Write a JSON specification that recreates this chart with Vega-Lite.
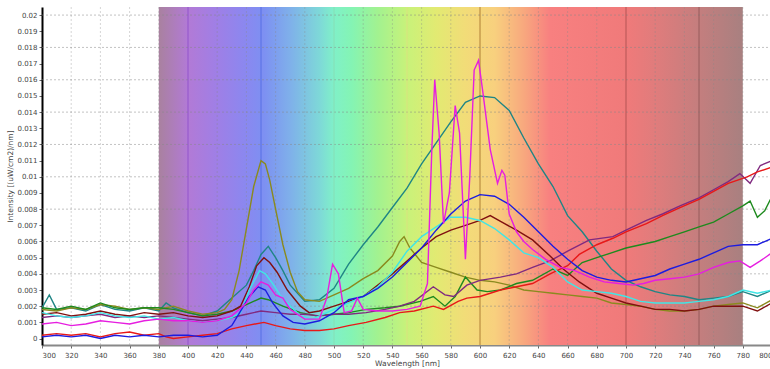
{
  "$schema": "https://vega.github.io/schema/vega-lite/v6.json",
  "autosize": {"type": "none"},
  "padding": {"left": 42, "top": 7, "right": 0, "bottom": 24},
  "width": 730,
  "height": 338,
  "background": "white",
  "config": {
    "view": {"stroke": null},
    "font": "DejaVu Sans",
    "axis": {"labelFont": "DejaVu Sans", "labelFontSize": 7, "labelColor": "#444", "labelOverlap": false, "titleFont": "DejaVu Sans", "titleFontSize": 7.5, "titleFontWeight": "normal", "titleColor": "#444", "grid": false, "tickColor": "#666", "tickSize": 3}
  },
  "datasets": {
    "band": [{"a": 380, "b": 780}],
    "marks": [{"w": 400}, {"w": 450}, {"w": 500}, {"w": 550}, {"w": 600}, {"w": 700}, {"w": 750}],
    "ygrid": [{"g": 0.002}, {"g": 0.004}, {"g": 0.006}, {"g": 0.008}, {"g": 0.01}, {"g": 0.012}, {"g": 0.014}, {"g": 0.016}, {"g": 0.018}, {"g": 0.02}],
    "xgrid": [{"g": 320}, {"g": 340}, {"g": 360}, {"g": 380}, {"g": 420}, {"g": 440}, {"g": 460}, {"g": 480}, {"g": 520}, {"g": 540}, {"g": 560}, {"g": 580}, {"g": 620}, {"g": 640}, {"g": 660}, {"g": 680}, {"g": 720}, {"g": 740}, {"g": 760}, {"g": 780}, {"g": 800}],
    "spectra": [
      {"s":"teal","w":300,"v":0.0019},{"s":"teal","w":305,"v":0.0027},{"s":"teal","w":310,"v":0.0018},{"s":"teal","w":320,"v":0.0019},{"s":"teal","w":330,"v":0.0017},{"s":"teal","w":340,"v":0.0021},{"s":"teal","w":350,"v":0.0018},{"s":"teal","w":360,"v":0.0017},{"s":"teal","w":370,"v":0.0019},{"s":"teal","w":380,"v":0.0017},{"s":"teal","w":385,"v":0.0022},{"s":"teal","w":390,"v":0.0019},{"s":"teal","w":400,"v":0.0016},{"s":"teal","w":410,"v":0.0014},{"s":"teal","w":420,"v":0.0017},{"s":"teal","w":430,"v":0.0025},{"s":"teal","w":440,"v":0.0033},{"s":"teal","w":445,"v":0.0042},{"s":"teal","w":450,"v":0.0052},{"s":"teal","w":455,"v":0.0057},{"s":"teal","w":460,"v":0.005},{"s":"teal","w":465,"v":0.0042},{"s":"teal","w":470,"v":0.0033},{"s":"teal","w":480,"v":0.0023},{"s":"teal","w":490,"v":0.0024},{"s":"teal","w":500,"v":0.0031},{"s":"teal","w":510,"v":0.0046},{"s":"teal","w":520,"v":0.0058},{"s":"teal","w":530,"v":0.0069},{"s":"teal","w":540,"v":0.0081},{"s":"teal","w":550,"v":0.0093},{"s":"teal","w":560,"v":0.0108},{"s":"teal","w":570,"v":0.0121},{"s":"teal","w":580,"v":0.0134},{"s":"teal","w":590,"v":0.0146},{"s":"teal","w":600,"v":0.015},{"s":"teal","w":610,"v":0.0149},{"s":"teal","w":620,"v":0.0141},{"s":"teal","w":630,"v":0.0124},{"s":"teal","w":640,"v":0.0108},{"s":"teal","w":650,"v":0.0094},{"s":"teal","w":660,"v":0.0076},{"s":"teal","w":670,"v":0.0066},{"s":"teal","w":680,"v":0.0054},{"s":"teal","w":690,"v":0.0043},{"s":"teal","w":700,"v":0.0036},{"s":"teal","w":710,"v":0.0032},{"s":"teal","w":720,"v":0.0029},{"s":"teal","w":730,"v":0.0027},{"s":"teal","w":740,"v":0.0026},{"s":"teal","w":750,"v":0.0024},{"s":"teal","w":760,"v":0.0025},{"s":"teal","w":770,"v":0.0026},{"s":"teal","w":780,"v":0.0029},{"s":"teal","w":790,"v":0.0026},{"s":"teal","w":800,"v":0.003},
      {"s":"olive","w":300,"v":0.0018},{"s":"olive","w":310,"v":0.0017},{"s":"olive","w":320,"v":0.0019},{"s":"olive","w":330,"v":0.0018},{"s":"olive","w":340,"v":0.0021},{"s":"olive","w":350,"v":0.002},{"s":"olive","w":360,"v":0.0018},{"s":"olive","w":370,"v":0.0019},{"s":"olive","w":380,"v":0.0018},{"s":"olive","w":390,"v":0.002},{"s":"olive","w":400,"v":0.0017},{"s":"olive","w":410,"v":0.0015},{"s":"olive","w":420,"v":0.0016},{"s":"olive","w":425,"v":0.0018},{"s":"olive","w":430,"v":0.0024},{"s":"olive","w":435,"v":0.0042},{"s":"olive","w":440,"v":0.0068},{"s":"olive","w":445,"v":0.0094},{"s":"olive","w":450,"v":0.011},{"s":"olive","w":453,"v":0.0108},{"s":"olive","w":456,"v":0.0098},{"s":"olive","w":460,"v":0.008},{"s":"olive","w":465,"v":0.0058},{"s":"olive","w":470,"v":0.0041},{"s":"olive","w":475,"v":0.0029},{"s":"olive","w":480,"v":0.0024},{"s":"olive","w":490,"v":0.0023},{"s":"olive","w":500,"v":0.0027},{"s":"olive","w":510,"v":0.0031},{"s":"olive","w":520,"v":0.0037},{"s":"olive","w":530,"v":0.0042},{"s":"olive","w":540,"v":0.0051},{"s":"olive","w":545,"v":0.006},{"s":"olive","w":548,"v":0.0063},{"s":"olive","w":552,"v":0.0056},{"s":"olive","w":560,"v":0.0047},{"s":"olive","w":570,"v":0.0044},{"s":"olive","w":580,"v":0.0041},{"s":"olive","w":590,"v":0.0038},{"s":"olive","w":600,"v":0.0036},{"s":"olive","w":610,"v":0.0035},{"s":"olive","w":620,"v":0.0033},{"s":"olive","w":630,"v":0.003},{"s":"olive","w":640,"v":0.0029},{"s":"olive","w":650,"v":0.0028},{"s":"olive","w":660,"v":0.0027},{"s":"olive","w":670,"v":0.0026},{"s":"olive","w":680,"v":0.0025},{"s":"olive","w":690,"v":0.0022},{"s":"olive","w":700,"v":0.0021},{"s":"olive","w":710,"v":0.002},{"s":"olive","w":720,"v":0.0018},{"s":"olive","w":730,"v":0.0017},{"s":"olive","w":740,"v":0.0017},{"s":"olive","w":750,"v":0.0018},{"s":"olive","w":760,"v":0.002},{"s":"olive","w":770,"v":0.0021},{"s":"olive","w":780,"v":0.0022},{"s":"olive","w":790,"v":0.0019},{"s":"olive","w":800,"v":0.0024},
      {"s":"green","w":300,"v":0.0019},{"s":"green","w":310,"v":0.0018},{"s":"green","w":320,"v":0.002},{"s":"green","w":330,"v":0.0018},{"s":"green","w":340,"v":0.0022},{"s":"green","w":350,"v":0.0019},{"s":"green","w":360,"v":0.0018},{"s":"green","w":370,"v":0.0019},{"s":"green","w":380,"v":0.0019},{"s":"green","w":390,"v":0.0018},{"s":"green","w":400,"v":0.0016},{"s":"green","w":410,"v":0.0014},{"s":"green","w":420,"v":0.0015},{"s":"green","w":430,"v":0.0017},{"s":"green","w":440,"v":0.0021},{"s":"green","w":450,"v":0.0025},{"s":"green","w":455,"v":0.0024},{"s":"green","w":465,"v":0.002},{"s":"green","w":477,"v":0.0016},{"s":"green","w":488,"v":0.0014},{"s":"green","w":500,"v":0.0015},{"s":"green","w":510,"v":0.0016},{"s":"green","w":522,"v":0.0018},{"s":"green","w":535,"v":0.0019},{"s":"green","w":545,"v":0.002},{"s":"green","w":559,"v":0.0023},{"s":"green","w":568,"v":0.0026},{"s":"green","w":576,"v":0.002},{"s":"green","w":583,"v":0.0026},{"s":"green","w":590,"v":0.0038},{"s":"green","w":598,"v":0.003},{"s":"green","w":605,"v":0.0029},{"s":"green","w":614,"v":0.003},{"s":"green","w":625,"v":0.0034},{"s":"green","w":636,"v":0.0036},{"s":"green","w":650,"v":0.0043},{"s":"green","w":660,"v":0.0039},{"s":"green","w":670,"v":0.0047},{"s":"green","w":680,"v":0.005},{"s":"green","w":690,"v":0.0053},{"s":"green","w":700,"v":0.0056},{"s":"green","w":710,"v":0.0058},{"s":"green","w":720,"v":0.006},{"s":"green","w":730,"v":0.0063},{"s":"green","w":740,"v":0.0066},{"s":"green","w":750,"v":0.0069},{"s":"green","w":760,"v":0.0072},{"s":"green","w":770,"v":0.0077},{"s":"green","w":780,"v":0.0082},{"s":"green","w":785,"v":0.0085},{"s":"green","w":790,"v":0.0075},{"s":"green","w":795,"v":0.0079},{"s":"green","w":800,"v":0.0088},
      {"s":"purple","w":300,"v":0.0013},{"s":"purple","w":310,"v":0.0014},{"s":"purple","w":320,"v":0.0013},{"s":"purple","w":330,"v":0.0014},{"s":"purple","w":340,"v":0.0015},{"s":"purple","w":350,"v":0.0013},{"s":"purple","w":360,"v":0.0014},{"s":"purple","w":370,"v":0.0013},{"s":"purple","w":380,"v":0.0014},{"s":"purple","w":390,"v":0.0013},{"s":"purple","w":400,"v":0.0012},{"s":"purple","w":410,"v":0.0011},{"s":"purple","w":420,"v":0.0012},{"s":"purple","w":430,"v":0.0013},{"s":"purple","w":440,"v":0.0015},{"s":"purple","w":450,"v":0.0017},{"s":"purple","w":460,"v":0.0016},{"s":"purple","w":470,"v":0.0015},{"s":"purple","w":480,"v":0.0015},{"s":"purple","w":490,"v":0.0014},{"s":"purple","w":500,"v":0.0015},{"s":"purple","w":510,"v":0.0015},{"s":"purple","w":522,"v":0.0016},{"s":"purple","w":535,"v":0.0018},{"s":"purple","w":545,"v":0.002},{"s":"purple","w":555,"v":0.0023},{"s":"purple","w":568,"v":0.0032},{"s":"purple","w":576,"v":0.0027},{"s":"purple","w":582,"v":0.0026},{"s":"purple","w":591,"v":0.0033},{"s":"purple","w":600,"v":0.0036},{"s":"purple","w":614,"v":0.0038},{"s":"purple","w":625,"v":0.004},{"s":"purple","w":636,"v":0.0044},{"s":"purple","w":648,"v":0.0048},{"s":"purple","w":660,"v":0.0054},{"s":"purple","w":675,"v":0.0061},{"s":"purple","w":691,"v":0.0063},{"s":"purple","w":700,"v":0.0067},{"s":"purple","w":714,"v":0.0073},{"s":"purple","w":725,"v":0.0077},{"s":"purple","w":737,"v":0.0082},{"s":"purple","w":750,"v":0.0087},{"s":"purple","w":760,"v":0.0092},{"s":"purple","w":770,"v":0.0097},{"s":"purple","w":778,"v":0.0102},{"s":"purple","w":785,"v":0.0096},{"s":"purple","w":792,"v":0.0107},{"s":"purple","w":800,"v":0.011},
      {"s":"red","w":300,"v":0.0002},{"s":"red","w":310,"v":0.0003},{"s":"red","w":320,"v":0.0002},{"s":"red","w":330,"v":0.0003},{"s":"red","w":340,"v":0.0001},{"s":"red","w":350,"v":0.0003},{"s":"red","w":360,"v":0.0004},{"s":"red","w":370,"v":0.0002},{"s":"red","w":380,"v":0.0003},{"s":"red","w":385,"v":0.0001},{"s":"red","w":390,"v":0.0},{"s":"red","w":400,"v":0.0001},{"s":"red","w":410,"v":0.0002},{"s":"red","w":420,"v":0.0003},{"s":"red","w":430,"v":0.0006},{"s":"red","w":440,"v":0.0008},{"s":"red","w":452,"v":0.001},{"s":"red","w":460,"v":0.0008},{"s":"red","w":470,"v":0.0006},{"s":"red","w":480,"v":0.0005},{"s":"red","w":490,"v":0.0005},{"s":"red","w":500,"v":0.0006},{"s":"red","w":510,"v":0.0008},{"s":"red","w":522,"v":0.001},{"s":"red","w":535,"v":0.0013},{"s":"red","w":545,"v":0.0016},{"s":"red","w":555,"v":0.0017},{"s":"red","w":568,"v":0.002},{"s":"red","w":575,"v":0.0018},{"s":"red","w":585,"v":0.0023},{"s":"red","w":591,"v":0.0025},{"s":"red","w":600,"v":0.0026},{"s":"red","w":614,"v":0.003},{"s":"red","w":625,"v":0.0032},{"s":"red","w":636,"v":0.0034},{"s":"red","w":648,"v":0.004},{"s":"red","w":660,"v":0.0045},{"s":"red","w":668,"v":0.0052},{"s":"red","w":680,"v":0.0058},{"s":"red","w":691,"v":0.0062},{"s":"red","w":700,"v":0.0066},{"s":"red","w":714,"v":0.0071},{"s":"red","w":725,"v":0.0076},{"s":"red","w":737,"v":0.0081},{"s":"red","w":750,"v":0.0086},{"s":"red","w":760,"v":0.0091},{"s":"red","w":770,"v":0.0096},{"s":"red","w":783,"v":0.01},{"s":"red","w":790,"v":0.0103},{"s":"red","w":800,"v":0.0106},
      {"s":"maroon","w":300,"v":0.0015},{"s":"maroon","w":310,"v":0.0016},{"s":"maroon","w":320,"v":0.0014},{"s":"maroon","w":330,"v":0.0015},{"s":"maroon","w":340,"v":0.0017},{"s":"maroon","w":350,"v":0.0015},{"s":"maroon","w":360,"v":0.0014},{"s":"maroon","w":370,"v":0.0016},{"s":"maroon","w":380,"v":0.0015},{"s":"maroon","w":390,"v":0.0016},{"s":"maroon","w":400,"v":0.0014},{"s":"maroon","w":410,"v":0.0013},{"s":"maroon","w":420,"v":0.0014},{"s":"maroon","w":430,"v":0.0017},{"s":"maroon","w":436,"v":0.002},{"s":"maroon","w":442,"v":0.0032},{"s":"maroon","w":447,"v":0.0045},{"s":"maroon","w":452,"v":0.005},{"s":"maroon","w":456,"v":0.0047},{"s":"maroon","w":461,"v":0.0041},{"s":"maroon","w":468,"v":0.003},{"s":"maroon","w":477,"v":0.002},{"s":"maroon","w":483,"v":0.0016},{"s":"maroon","w":490,"v":0.0017},{"s":"maroon","w":500,"v":0.002},{"s":"maroon","w":510,"v":0.0023},{"s":"maroon","w":520,"v":0.0026},{"s":"maroon","w":530,"v":0.0033},{"s":"maroon","w":540,"v":0.004},{"s":"maroon","w":550,"v":0.0048},{"s":"maroon","w":560,"v":0.0056},{"s":"maroon","w":570,"v":0.0063},{"s":"maroon","w":580,"v":0.0067},{"s":"maroon","w":590,"v":0.007},{"s":"maroon","w":600,"v":0.0073},{"s":"maroon","w":607,"v":0.0076},{"s":"maroon","w":615,"v":0.0072},{"s":"maroon","w":625,"v":0.0067},{"s":"maroon","w":636,"v":0.0061},{"s":"maroon","w":648,"v":0.0051},{"s":"maroon","w":657,"v":0.0043},{"s":"maroon","w":668,"v":0.0035},{"s":"maroon","w":680,"v":0.0028},{"s":"maroon","w":690,"v":0.0025},{"s":"maroon","w":700,"v":0.0022},{"s":"maroon","w":710,"v":0.002},{"s":"maroon","w":720,"v":0.0018},{"s":"maroon","w":730,"v":0.0018},{"s":"maroon","w":740,"v":0.0017},{"s":"maroon","w":750,"v":0.0018},{"s":"maroon","w":760,"v":0.002},{"s":"maroon","w":770,"v":0.002},{"s":"maroon","w":780,"v":0.002},{"s":"maroon","w":790,"v":0.0017},{"s":"maroon","w":800,"v":0.0022},
      {"s":"cyan","w":300,"v":0.0016},{"s":"cyan","w":310,"v":0.0014},{"s":"cyan","w":320,"v":0.0013},{"s":"cyan","w":330,"v":0.0014},{"s":"cyan","w":340,"v":0.0016},{"s":"cyan","w":350,"v":0.0014},{"s":"cyan","w":360,"v":0.0013},{"s":"cyan","w":370,"v":0.0014},{"s":"cyan","w":380,"v":0.0012},{"s":"cyan","w":390,"v":0.0013},{"s":"cyan","w":400,"v":0.0011},{"s":"cyan","w":410,"v":0.001},{"s":"cyan","w":420,"v":0.0011},{"s":"cyan","w":430,"v":0.0013},{"s":"cyan","w":436,"v":0.0016},{"s":"cyan","w":442,"v":0.003},{"s":"cyan","w":449,"v":0.0042},{"s":"cyan","w":453,"v":0.004},{"s":"cyan","w":458,"v":0.0034},{"s":"cyan","w":463,"v":0.0027},{"s":"cyan","w":468,"v":0.0022},{"s":"cyan","w":477,"v":0.0014},{"s":"cyan","w":485,"v":0.0012},{"s":"cyan","w":490,"v":0.0014},{"s":"cyan","w":500,"v":0.0018},{"s":"cyan","w":510,"v":0.0022},{"s":"cyan","w":520,"v":0.0026},{"s":"cyan","w":530,"v":0.0032},{"s":"cyan","w":540,"v":0.0041},{"s":"cyan","w":550,"v":0.0054},{"s":"cyan","w":560,"v":0.0063},{"s":"cyan","w":570,"v":0.0069},{"s":"cyan","w":580,"v":0.0075},{"s":"cyan","w":590,"v":0.0075},{"s":"cyan","w":600,"v":0.0073},{"s":"cyan","w":610,"v":0.0068},{"s":"cyan","w":620,"v":0.0061},{"s":"cyan","w":630,"v":0.0053},{"s":"cyan","w":640,"v":0.005},{"s":"cyan","w":650,"v":0.0044},{"s":"cyan","w":660,"v":0.0035},{"s":"cyan","w":670,"v":0.003},{"s":"cyan","w":680,"v":0.0029},{"s":"cyan","w":690,"v":0.0028},{"s":"cyan","w":700,"v":0.0026},{"s":"cyan","w":710,"v":0.0023},{"s":"cyan","w":720,"v":0.0022},{"s":"cyan","w":730,"v":0.0022},{"s":"cyan","w":740,"v":0.0022},{"s":"cyan","w":750,"v":0.0023},{"s":"cyan","w":760,"v":0.0024},{"s":"cyan","w":770,"v":0.0026},{"s":"cyan","w":780,"v":0.003},{"s":"cyan","w":790,"v":0.0028},{"s":"cyan","w":800,"v":0.003},
      {"s":"blue","w":300,"v":0.0001},{"s":"blue","w":310,"v":0.0002},{"s":"blue","w":320,"v":0.0001},{"s":"blue","w":330,"v":0.0002},{"s":"blue","w":340,"v":0.0},{"s":"blue","w":350,"v":0.0002},{"s":"blue","w":360,"v":0.0001},{"s":"blue","w":370,"v":0.0002},{"s":"blue","w":380,"v":0.0001},{"s":"blue","w":390,"v":0.0002},{"s":"blue","w":400,"v":0.0002},{"s":"blue","w":410,"v":0.0001},{"s":"blue","w":420,"v":0.0002},{"s":"blue","w":430,"v":0.0008},{"s":"blue","w":436,"v":0.0017},{"s":"blue","w":442,"v":0.0026},{"s":"blue","w":448,"v":0.0032},{"s":"blue","w":453,"v":0.003},{"s":"blue","w":458,"v":0.0022},{"s":"blue","w":465,"v":0.0014},{"s":"blue","w":472,"v":0.001},{"s":"blue","w":480,"v":0.0009},{"s":"blue","w":490,"v":0.0011},{"s":"blue","w":500,"v":0.0016},{"s":"blue","w":510,"v":0.0024},{"s":"blue","w":520,"v":0.0026},{"s":"blue","w":530,"v":0.0031},{"s":"blue","w":540,"v":0.0038},{"s":"blue","w":550,"v":0.0047},{"s":"blue","w":560,"v":0.0056},{"s":"blue","w":570,"v":0.0067},{"s":"blue","w":580,"v":0.0077},{"s":"blue","w":590,"v":0.0085},{"s":"blue","w":600,"v":0.0089},{"s":"blue","w":610,"v":0.0088},{"s":"blue","w":620,"v":0.0083},{"s":"blue","w":630,"v":0.0075},{"s":"blue","w":640,"v":0.0066},{"s":"blue","w":650,"v":0.0057},{"s":"blue","w":660,"v":0.0049},{"s":"blue","w":670,"v":0.0042},{"s":"blue","w":680,"v":0.0038},{"s":"blue","w":690,"v":0.0036},{"s":"blue","w":700,"v":0.0035},{"s":"blue","w":710,"v":0.0037},{"s":"blue","w":720,"v":0.0039},{"s":"blue","w":730,"v":0.0043},{"s":"blue","w":740,"v":0.0046},{"s":"blue","w":750,"v":0.0049},{"s":"blue","w":760,"v":0.0053},{"s":"blue","w":770,"v":0.0057},{"s":"blue","w":780,"v":0.0058},{"s":"blue","w":790,"v":0.0058},{"s":"blue","w":800,"v":0.0062},
      {"s":"magenta","w":300,"v":0.0009},{"s":"magenta","w":310,"v":0.001},{"s":"magenta","w":320,"v":0.0008},{"s":"magenta","w":330,"v":0.0009},{"s":"magenta","w":340,"v":0.0011},{"s":"magenta","w":350,"v":0.001},{"s":"magenta","w":360,"v":0.0009},{"s":"magenta","w":370,"v":0.0011},{"s":"magenta","w":380,"v":0.0012},{"s":"magenta","w":390,"v":0.0011},{"s":"magenta","w":400,"v":0.0011},{"s":"magenta","w":410,"v":0.001},{"s":"magenta","w":420,"v":0.0011},{"s":"magenta","w":430,"v":0.0014},{"s":"magenta","w":440,"v":0.0022},{"s":"magenta","w":445,"v":0.003},{"s":"magenta","w":450,"v":0.0035},{"s":"magenta","w":455,"v":0.0033},{"s":"magenta","w":460,"v":0.0027},{"s":"magenta","w":465,"v":0.0025},{"s":"magenta","w":470,"v":0.0018},{"s":"magenta","w":480,"v":0.0012},{"s":"magenta","w":490,"v":0.0012},{"s":"magenta","w":495,"v":0.0025},{"s":"magenta","w":499,"v":0.0046},{"s":"magenta","w":503,"v":0.004},{"s":"magenta","w":507,"v":0.0016},{"s":"magenta","w":512,"v":0.0017},{"s":"magenta","w":516,"v":0.0025},{"s":"magenta","w":520,"v":0.0018},{"s":"magenta","w":530,"v":0.0017},{"s":"magenta","w":540,"v":0.0017},{"s":"magenta","w":550,"v":0.0018},{"s":"magenta","w":559,"v":0.002},{"s":"magenta","w":564,"v":0.0034},{"s":"magenta","w":567,"v":0.0117},{"s":"magenta","w":569,"v":0.016},{"s":"magenta","w":572,"v":0.0127},{"s":"magenta","w":575,"v":0.0071},{"s":"magenta","w":579,"v":0.009},{"s":"magenta","w":583,"v":0.0144},{"s":"magenta","w":586,"v":0.0127},{"s":"magenta","w":590,"v":0.0049},{"s":"magenta","w":593,"v":0.01},{"s":"magenta","w":596,"v":0.0166},{"s":"magenta","w":599,"v":0.0172},{"s":"magenta","w":602,"v":0.0152},{"s":"magenta","w":607,"v":0.0117},{"s":"magenta","w":612,"v":0.0096},{"s":"magenta","w":615,"v":0.0104},{"s":"magenta","w":617,"v":0.0101},{"s":"magenta","w":620,"v":0.0077},{"s":"magenta","w":625,"v":0.0066},{"s":"magenta","w":630,"v":0.006},{"s":"magenta","w":636,"v":0.0055},{"s":"magenta","w":645,"v":0.0049},{"s":"magenta","w":655,"v":0.0044},{"s":"magenta","w":665,"v":0.0042},{"s":"magenta","w":675,"v":0.0038},{"s":"magenta","w":685,"v":0.0035},{"s":"magenta","w":695,"v":0.0034},{"s":"magenta","w":705,"v":0.0033},{"s":"magenta","w":712,"v":0.0034},{"s":"magenta","w":720,"v":0.0036},{"s":"magenta","w":730,"v":0.0037},{"s":"magenta","w":740,"v":0.0038},{"s":"magenta","w":750,"v":0.004},{"s":"magenta","w":760,"v":0.0044},{"s":"magenta","w":770,"v":0.0047},{"s":"magenta","w":778,"v":0.0048},{"s":"magenta","w":785,"v":0.0044},{"s":"magenta","w":792,"v":0.0048},{"s":"magenta","w":800,"v":0.0053}
    ]
  },
  "resolve": {"scale": {"color": "independent", "stroke": "independent"}},
  "layer": [
    {
      "data": {"name": "band"},
      "mark": {"type": "rect", "color": {"gradient": "linear", "x1": 0, "y1": 0, "x2": 1, "y2": 0, "stops": [
        {"offset": 0, "color": "#a9819f"},
        {"offset": 0.05, "color": "#b27ad6"},
        {"offset": 0.1, "color": "#9f7fe6"},
        {"offset": 0.15, "color": "#8a88f0"},
        {"offset": 0.18, "color": "#7d90f2"},
        {"offset": 0.225, "color": "#7fb0ea"},
        {"offset": 0.275, "color": "#7ed8d8"},
        {"offset": 0.3, "color": "#80f0c8"},
        {"offset": 0.33, "color": "#84f4b4"},
        {"offset": 0.375, "color": "#a2f290"},
        {"offset": 0.425, "color": "#c8f27a"},
        {"offset": 0.475, "color": "#e2ea72"},
        {"offset": 0.525, "color": "#f2dc78"},
        {"offset": 0.575, "color": "#f8d07e"},
        {"offset": 0.625, "color": "#f8a87e"},
        {"offset": 0.67, "color": "#f88080"},
        {"offset": 0.8, "color": "#f07a7a"},
        {"offset": 0.85, "color": "#e07c7c"},
        {"offset": 0.925, "color": "#c47e7e"},
        {"offset": 1, "color": "#a88080"}
      ]}},
      "encoding": {
        "x": {"field": "a", "type": "quantitative", "scale": {"domain": [300, 800], "nice": false},
          "axis": {"title": "Wavelength [nm]", "values": [300,320,340,360,380,400,420,440,460,480,500,520,540,560,580,600,620,640,660,680,700,720,740,760,780,800], "labelOverlap": false, "domainColor": "#888", "domainWidth": 2, "labelPadding": 3, "titlePadding": 1}},
        "x2": {"field": "b"}
      }
    },
    {
      "data": {"name": "xgrid"},
      "mark": {"type": "rule", "color": "#888", "strokeDash": [2, 2], "strokeWidth": 1, "opacity": 0.35},
      "encoding": {"x": {"field": "g", "type": "quantitative",
          "axis": {"title": "Wavelength [nm]", "values": [300,320,340,360,380,400,420,440,460,480,500,520,540,560,580,600,620,640,660,680,700,720,740,760,780,800], "labelOverlap": false, "domainColor": "#888", "domainWidth": 2, "labelPadding": 3, "titlePadding": 1}}}
    },
    {
      "data": {"name": "ygrid"},
      "mark": {"type": "rule", "color": "#888", "strokeDash": [2, 2], "strokeWidth": 1, "opacity": 0.5},
      "encoding": {"y": {"field": "g", "type": "quantitative", "scale": {"domain": [-0.0004, 0.0205], "nice": false, "zero": false},
          "axis": {"title": "Intensity [(uW/cm2)/nm]", "values": [0,0.001,0.002,0.003,0.004,0.005,0.006,0.007,0.008,0.009,0.01,0.011,0.012,0.013,0.014,0.015,0.016,0.017,0.018,0.019,0.02], "format": ".3~f", "labelOverlap": false, "domainColor": "#000", "domainWidth": 2, "labelPadding": 2, "titlePadding": 2}}}
    },
    {
      "data": {"name": "marks"},
      "mark": {"type": "rule", "strokeWidth": 1, "opacity": 0.75},
      "encoding": {
        "x": {"field": "w", "type": "quantitative",
          "axis": {"title": "Wavelength [nm]", "values": [300,320,340,360,380,400,420,440,460,480,500,520,540,560,580,600,620,640,660,680,700,720,740,760,780,800], "labelOverlap": false, "domainColor": "#888", "domainWidth": 2, "labelPadding": 3, "titlePadding": 1}},
        "stroke": {"field": "w", "type": "ordinal", "legend": null, "scale": {"domain": [400, 450, 500, 550, 600, 700, 750], "range": ["#8a48c8", "#4a66e0", "#8ad8b0", "#dede80", "#9a6422", "#a04848", "#8a5050"]}}
      }
    },
    {
      "data": {"name": "spectra"},
      "mark": {"type": "line", "strokeWidth": 1.4, "clip": true},
      "encoding": {
        "x": {"field": "w", "type": "quantitative", "scale": {"domain": [300, 800], "nice": false},
          "axis": {"title": "Wavelength [nm]", "values": [300,320,340,360,380,400,420,440,460,480,500,520,540,560,580,600,620,640,660,680,700,720,740,760,780,800], "labelOverlap": false, "domainColor": "#888", "domainWidth": 2, "labelPadding": 3, "titlePadding": 1}},
        "y": {"field": "v", "type": "quantitative", "scale": {"domain": [-0.0004, 0.0205], "nice": false, "zero": false},
          "axis": {"title": "Intensity [(uW/cm2)/nm]", "values": [0,0.001,0.002,0.003,0.004,0.005,0.006,0.007,0.008,0.009,0.01,0.011,0.012,0.013,0.014,0.015,0.016,0.017,0.018,0.019,0.02], "format": ".3~f", "labelOverlap": false, "domainColor": "#000", "domainWidth": 2, "labelPadding": 2, "titlePadding": 2}},
        "color": {"field": "s", "type": "nominal", "legend": null, "scale": {"domain": ["teal","olive","green","purple","red","maroon","cyan","blue","magenta"], "range": ["#1f8585","#8a8a1e","#1e8a1e","#802a80","#e81818","#801010","#40e6e6","#1c1ce0","#e61ee0"]}}
      }
    }
  ]
}
